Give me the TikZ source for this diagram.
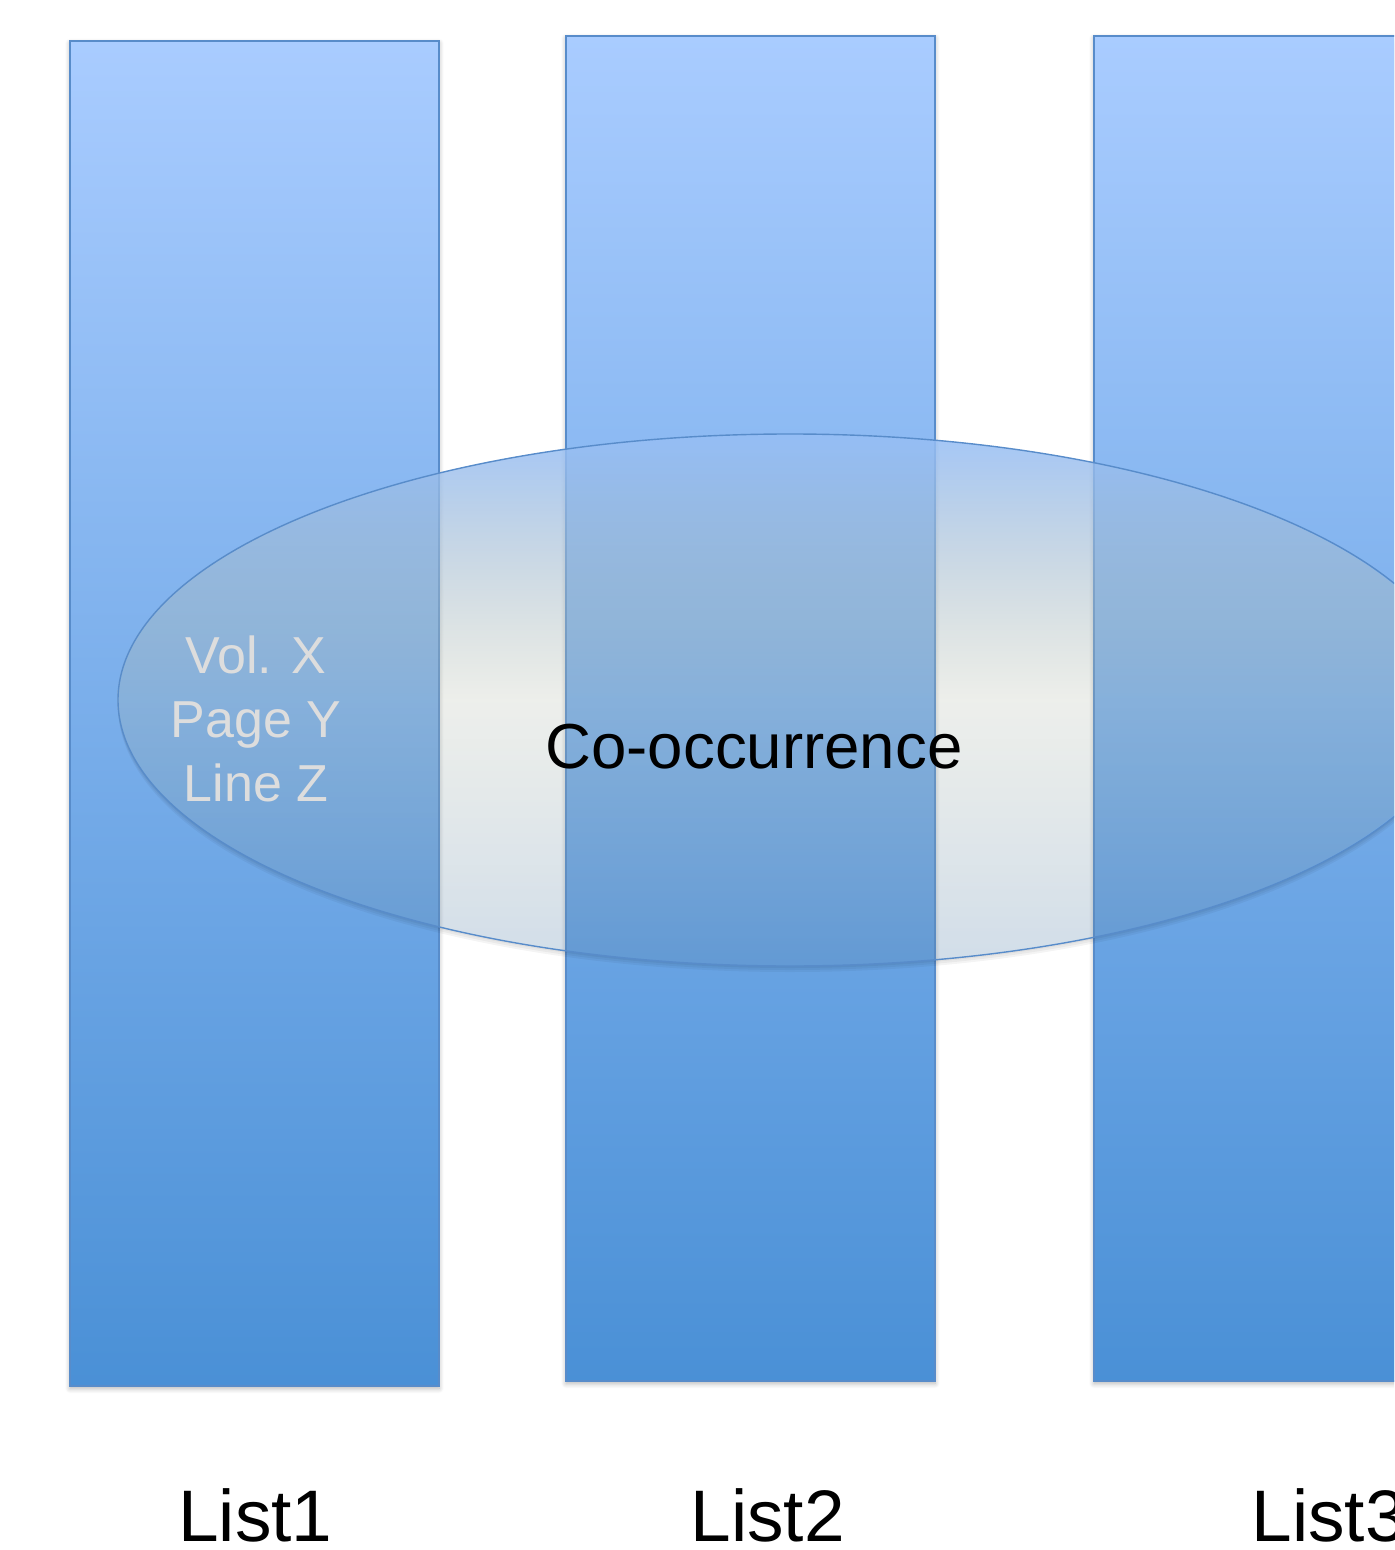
\documentclass[tikz,border=0pt]{standalone}
\usepackage{fontspec}
\setmainfont{Liberation Sans}
\usetikzlibrary{shapes.geometric,fadings,shadows.blur}

% bar and ellipse colours
\definecolor{bartop}{RGB}{169,204,255}
\definecolor{barbot}{RGB}{74,144,214}
\definecolor{edgeblue}{RGB}{88,140,202}
\definecolor{elltop}{RGB}{150,190,246}
\definecolor{ellmid}{RGB}{176,184,168}
\definecolor{ellbot}{RGB}{89,133,176}
\definecolor{faintgray}{RGB}{221,221,221}

% opacity of the ellipse: strong at the top, light in the middle and below
\tikzfading[name=ellfade, top color=transparent!12, bottom color=transparent!72, middle color=transparent!77]

\begin{document}
\begin{tikzpicture}[x=0.5pt,y=-0.5pt,
  listbar/.style={rectangle, draw=edgeblue, line width=0.8pt,
    top color=bartop, bottom color=barbot,
    minimum width=184.5pt, minimum height=672.5pt, inner sep=0pt, outer sep=0pt,
    blur shadow={shadow xshift=0pt, shadow yshift=-1.2pt, shadow blur radius=2.5pt,
      shadow blur steps=6, shadow opacity=30}},
  coocfill/.style={ellipse, minimum width=672pt, minimum height=266pt, inner sep=0pt,
    top color=elltop, bottom color=ellbot, middle color=ellmid, path fading=ellfade},
  coocrim/.style={ellipse, minimum width=672pt, minimum height=266pt, inner sep=0pt,
    draw=edgeblue, line width=0.7pt},
  coocshade/.style={ellipse, minimum width=672pt, minimum height=266pt, inner sep=0pt,
    fill=black, opacity=0.045},
  bigtext/.style={font=\fontsize{31.8pt}{38pt}\selectfont, text=black, inner sep=0pt},
  loctext/.style={font=\fontsize{26pt}{32pt}\selectfont, text=faintgray, anchor=base},
  listtext/.style={font=\fontsize{36.5pt}{42pt}\selectfont, text=black, anchor=base west, inner sep=0pt}]

\useasboundingbox (0,0) rectangle (1394,1550);
\clip (0,0) rectangle (1394,1550);

% the three lists
\node[listbar] (bar1) at (254.5,713.5) {};
\node[listbar] (bar2) at (750.5,708.5) {};
\node[listbar] (bar3) at (1278.5,708.5) {};

% soft shadow under the lower rim of the ellipse, kept outside it
\begin{scope}[even odd rule]
  \clip (0,0) rectangle (1394,1550)
    (790,700) ellipse [x radius=336pt, y radius=133pt];
  \foreach \d [count=\k] in {2,4,6} {
    \node[coocshade] (shade\k) at (790,700+\d) {};
  }
\end{scope}

% co-occurrence window across the lists
\node[coocfill] (cooc) at (790,700) {};
\node[coocrim] (coocedge) at (cooc.center) {};

\node[bigtext, anchor=base west] (cotext) at (545,768) {Co-occurrence};

\node[loctext] (vol) at (256,673) {Vol. X};
\node[loctext] (page) at (256,737) {Page Y};
\node[loctext] (line) at (256,801) {Line Z};

% list captions
\node[listtext] (list1) at (178,1541) {List1};
\node[listtext] (list2) at (690,1541) {List2};
\node[listtext] (list3) at (1251,1541) {List3};
\end{tikzpicture}
\end{document}
